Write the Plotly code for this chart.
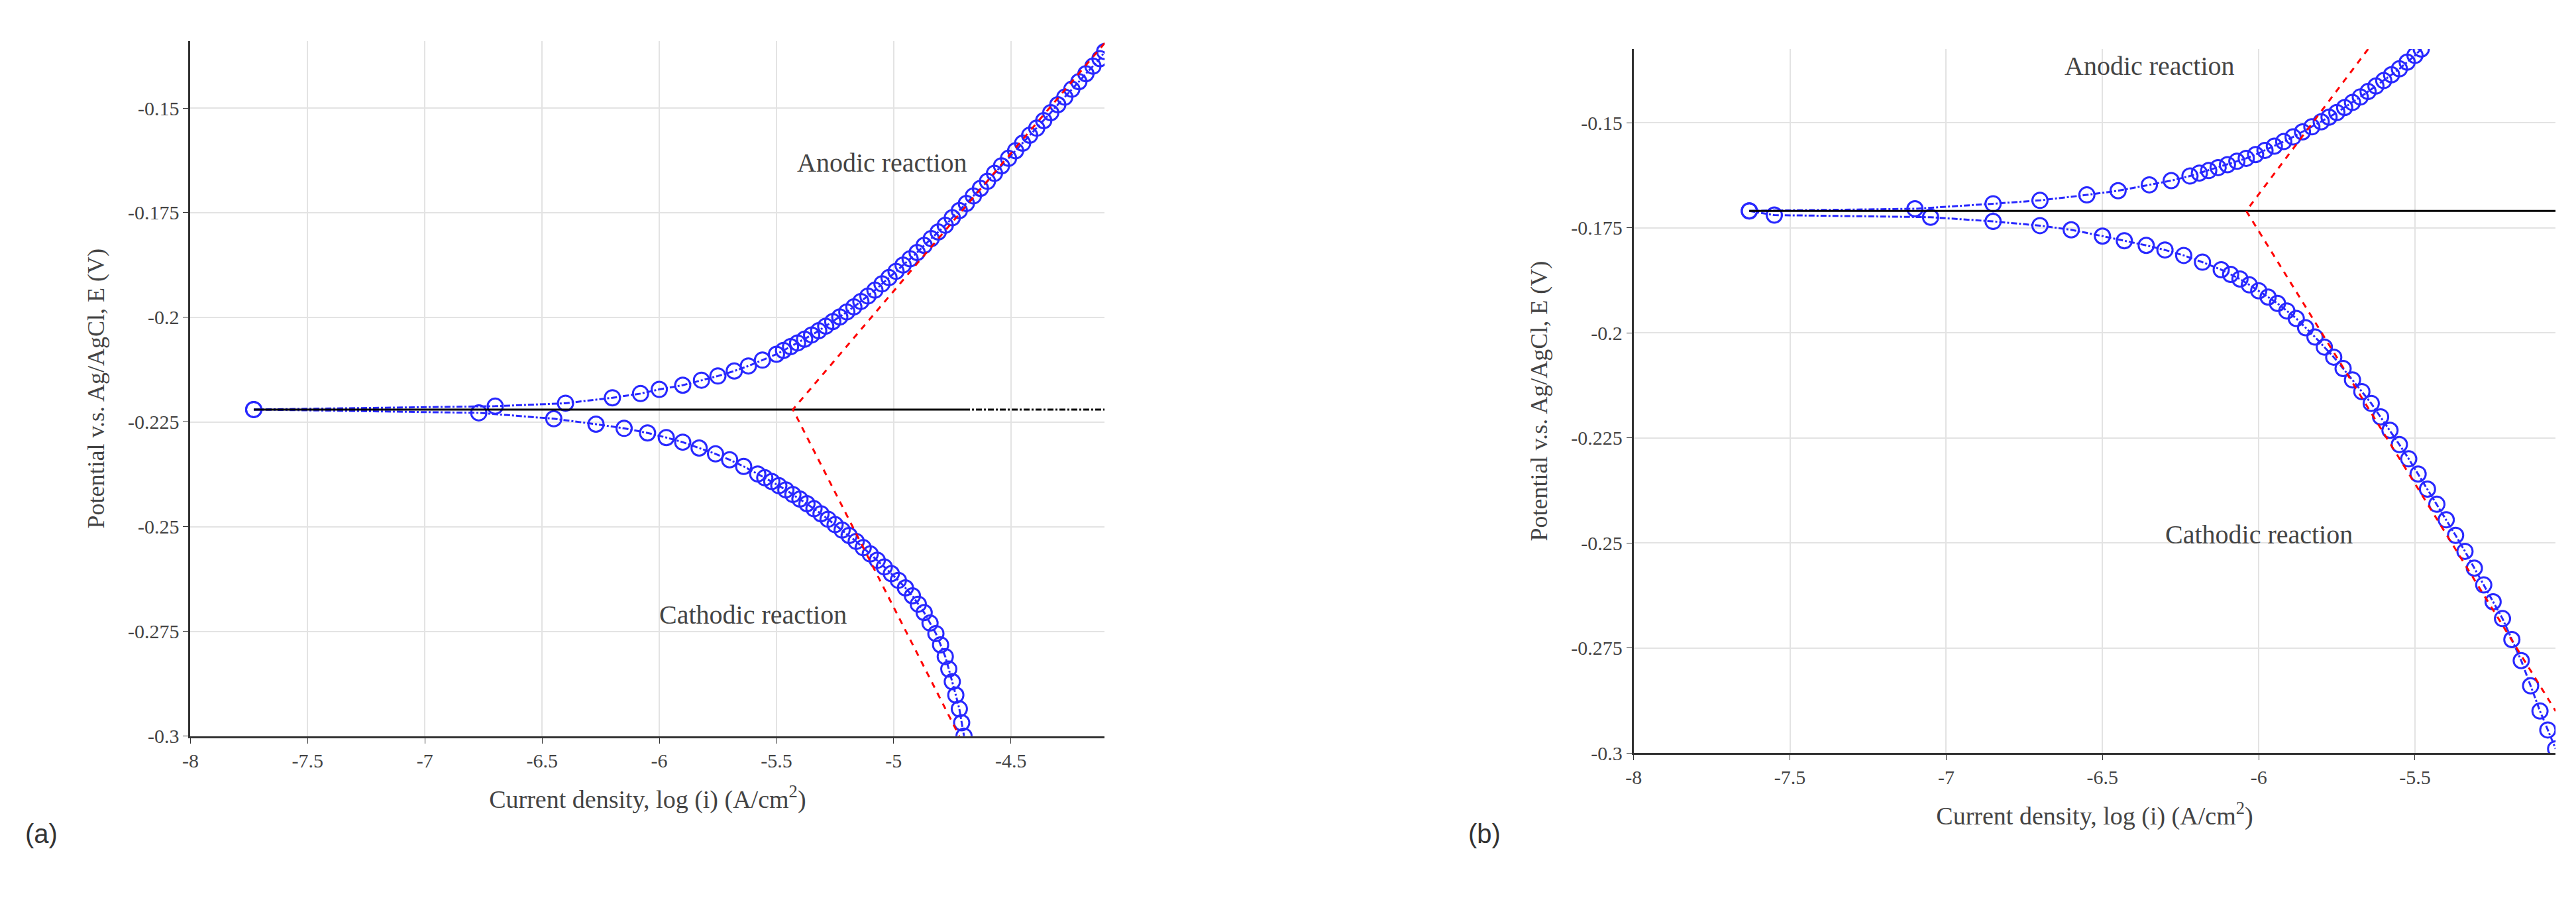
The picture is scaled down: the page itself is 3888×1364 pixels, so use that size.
import plotly.graph_objects as go

# (a)
a_an_x = [-7.73,-6.7,-6.4,-6.2,-6.08,-6.0,-5.9,-5.82,-5.75,-5.68,-5.62,-5.56,-5.5,-5.44,-5.38,-5.32,-5.26,-5.2,-5.14,-5.08,-5.02,-4.96,-4.9,-4.84,-4.78,-4.72,-4.66,-4.6,-4.54,-4.48,-4.42,-4.36,-4.3,-4.24,-4.18,-4.12,-4.1]
a_an_y = [-0.222,-0.2212,-0.2205,-0.2192,-0.2182,-0.2172,-0.2162,-0.2150,-0.2140,-0.2128,-0.2116,-0.2102,-0.2088,-0.2070,-0.2052,-0.2032,-0.2010,-0.1987,-0.1962,-0.1935,-0.1905,-0.1875,-0.1845,-0.1812,-0.1780,-0.1745,-0.1710,-0.1675,-0.1638,-0.1602,-0.1565,-0.1530,-0.1492,-0.1455,-0.1418,-0.1382,-0.1365]
a_an_x2 = [-5.47,-5.41,-5.35,-5.29,-5.23,-5.17,-5.11,-5.05,-4.99,-4.93,-4.87,-4.81,-4.75,-4.69,-4.63,-4.57,-4.51,-4.45,-4.39,-4.33,-4.27,-4.21,-4.15]
a_an_y2 = [-0.2079,-0.2061,-0.2042,-0.2021,-0.1999,-0.1975,-0.1949,-0.1920,-0.1890,-0.1860,-0.1828,-0.1796,-0.1762,-0.1728,-0.1692,-0.1656,-0.1620,-0.1584,-0.1548,-0.1511,-0.1474,-0.1437,-0.1400]
a_ca_x = [-7.73,-6.77,-6.45,-6.27,-6.15,-6.05,-5.97,-5.9,-5.83,-5.76,-5.7,-5.64,-5.58,-5.52,-5.46,-5.4,-5.34,-5.28,-5.22,-5.16,-5.1,-5.04,-4.98,-4.92,-4.87,-4.82,-4.78,-4.75,-4.72,-4.7]
a_ca_y = [-0.222,-0.2228,-0.2242,-0.2255,-0.2265,-0.2276,-0.2287,-0.2298,-0.2312,-0.2326,-0.2340,-0.2356,-0.2374,-0.2392,-0.2412,-0.2434,-0.2457,-0.2482,-0.2508,-0.2535,-0.2565,-0.2596,-0.2628,-0.2665,-0.2705,-0.2755,-0.2810,-0.2870,-0.2935,-0.3]
a_ca_x2 = [-5.55,-5.49,-5.43,-5.37,-5.31,-5.25,-5.19,-5.13,-5.07,-5.01,-4.95,-4.895,-4.845,-4.80,-4.765,-4.735,-4.71]
a_ca_y2 = [-0.2383,-0.2402,-0.2423,-0.2445,-0.2469,-0.2495,-0.2521,-0.2550,-0.2580,-0.2612,-0.2646,-0.2685,-0.2730,-0.2782,-0.2840,-0.2902,-0.2968]
a_tafel_x = [-4.1,-5.43,-4.72]
a_tafel_y = [-0.1345,-0.222,-0.300]
a_ecorr = -0.222

# (b)
b_an_x = [-7.63,-7.1,-6.85,-6.7,-6.55,-6.45,-6.35,-6.28,-6.22,-6.16,-6.1,-6.04,-5.98,-5.92,-5.86,-5.8,-5.75,-5.7,-5.65,-5.6,-5.55,-5.5,-5.48]
b_an_y = [-0.171,-0.1705,-0.1693,-0.1685,-0.1672,-0.1662,-0.1648,-0.1638,-0.1627,-0.1614,-0.1600,-0.1585,-0.1566,-0.1545,-0.1522,-0.1498,-0.1476,-0.1452,-0.1426,-0.1400,-0.1372,-0.1340,-0.1325]
b_an_x2 = [-6.19,-6.13,-6.07,-6.01,-5.95,-5.89,-5.83,-5.775,-5.725,-5.675,-5.625,-5.575,-5.525]
b_an_y2 = [-0.1620,-0.1607,-0.1592,-0.1576,-0.1556,-0.1534,-0.1510,-0.1487,-0.1464,-0.1439,-0.1413,-0.1386,-0.1356]
b_ca_x = [-7.63,-7.55,-7.05,-6.85,-6.7,-6.6,-6.5,-6.43,-6.36,-6.3,-6.24,-6.18,-6.12,-6.06,-6.0,-5.94,-5.88,-5.82,-5.76,-5.7,-5.64,-5.58,-5.52,-5.46,-5.4,-5.34,-5.28,-5.22,-5.16,-5.1,-5.05]
b_ca_y = [-0.171,-0.172,-0.1725,-0.1735,-0.1745,-0.1755,-0.177,-0.1781,-0.1792,-0.1803,-0.1816,-0.1832,-0.1850,-0.1872,-0.1900,-0.1930,-0.1966,-0.2010,-0.2058,-0.2112,-0.2168,-0.2232,-0.2300,-0.2372,-0.2445,-0.2520,-0.2600,-0.2680,-0.2780,-0.2900,-0.2990]
b_ca_x2 = [-6.09,-6.03,-5.97,-5.91,-5.85,-5.79,-5.73,-5.67,-5.61,-5.55,-5.49,-5.43,-5.37,-5.31,-5.25,-5.19,-5.13,-5.075]
b_ca_y2 = [-0.1861,-0.1886,-0.1915,-0.1948,-0.1988,-0.2034,-0.2085,-0.2140,-0.2200,-0.2266,-0.2336,-0.2408,-0.2482,-0.2560,-0.2640,-0.2730,-0.2840,-0.2945]
b_tafel_x = [-5.65,-6.04,-5.05]
b_tafel_y = [-0.1325,-0.171,-0.290]
b_ecorr = -0.171

BLUE = "rgb(40,40,255)"
fig = go.Figure()

def merge(x1, y1, x2, y2):
    pts = sorted(zip(x1 + x2, y1 + y2))
    return [p[0] for p in pts], [p[1] for p in pts]

def add_panel(xa, ya, an, ca, tx, ty, ec, xsolid_end, xmax):
    for xs, ys in [an, ca]:
        fig.add_trace(go.Scatter(x=xs, y=ys, mode="lines+markers", xaxis=xa, yaxis=ya,
            line=dict(color=BLUE, width=3, dash="dashdot"),
            marker=dict(symbol="circle-open", size=23, color=BLUE, line=dict(width=3)),
            showlegend=False))
    fig.add_trace(go.Scatter(x=[an[0][0], xsolid_end], y=[ec, ec], mode="lines", xaxis=xa, yaxis=ya,
        line=dict(color="black", width=3), showlegend=False))
    if xsolid_end < xmax:
        fig.add_trace(go.Scatter(x=[xsolid_end, xmax], y=[ec, ec], mode="lines", xaxis=xa, yaxis=ya,
            line=dict(color="black", width=3, dash="dashdot"), showlegend=False))
    fig.add_trace(go.Scatter(x=tx, y=ty, mode="lines", xaxis=xa, yaxis=ya,
        line=dict(color="red", width=3, dash="dash"), showlegend=False))

add_panel("x", "y", merge(a_an_x, a_an_y, a_an_x2, a_an_y2), merge(a_ca_x, a_ca_y, a_ca_x2, a_ca_y2),
          a_tafel_x, a_tafel_y, a_ecorr, -4.7, -4.1)
add_panel("x2", "y2", merge(b_an_x, b_an_y, b_an_x2, b_an_y2), merge(b_ca_x, b_ca_y, b_ca_x2, b_ca_y2),
          b_tafel_x, b_tafel_y, b_ecorr, -5.05, -5.05)

serif = "Liberation Serif"
ax = dict(showgrid=True, gridcolor="#e3e3e3", gridwidth=2, zeroline=False, showline=True,
          linecolor="#333", linewidth=3, ticks="outside", ticklen=8, tickcolor="#333",
          tickfont=dict(family=serif, size=30, color="#444"))
yticks = [-0.3, -0.275, -0.25, -0.225, -0.2, -0.175, -0.15]
ytext = ["-0.3", "-0.275", "-0.25", "-0.225", "-0.2", "-0.175", "-0.15"]
fig.update_layout(
    width=3888, height=1364, paper_bgcolor="white", plot_bgcolor="white",
    margin=dict(l=0, r=0, t=0, b=0),
    xaxis=dict(ax, domain=[0.069, 0.425], range=[-8, -4.1], tickvals=[-8,-7.5,-7,-6.5,-6,-5.5,-5,-4.5], ticktext=["-8","-7.5","-7","-6.5","-6","-5.5","-5","-4.5"],
               title=dict(text="Current density, log (i) (A/cm<sup>2</sup>)", font=dict(family=serif, size=38, color="#444"), standoff=30)),
    yaxis=dict(ax, domain=[0.182, 0.96], range=[-0.3, -0.134], tickvals=yticks, ticktext=ytext,
               title=dict(text="Potential v.s. Ag/AgCl, E (V)", font=dict(family=serif, size=36, color="#444"), standoff=25)),
    xaxis2=dict(ax, domain=[0.631, 0.99], range=[-8, -5.05], anchor="y2", tickvals=[-8,-7.5,-7,-6.5,-6,-5.5], ticktext=["-8","-7.5","-7","-6.5","-6","-5.5"],
               title=dict(text="Current density, log (i) (A/cm<sup>2</sup>)", font=dict(family=serif, size=38, color="#444"), standoff=30)),
    yaxis2=dict(ax, domain=[0.163, 0.951], range=[-0.3, -0.1325], anchor="x2", tickvals=yticks, ticktext=ytext,
               title=dict(text="Potential v.s. Ag/AgCl, E (V)", font=dict(family=serif, size=36, color="#444"), standoff=25)),
)
ann_font = dict(family=serif, size=40, color="#444")
fig.add_annotation(x=-5.05, y=-0.163, xref="x", yref="y", text="Anodic reaction", showarrow=False, font=ann_font)
fig.add_annotation(x=-5.6, y=-0.271, xref="x", yref="y", text="Cathodic reaction", showarrow=False, font=ann_font)
fig.add_annotation(x=-6.35, y=-0.1365, xref="x2", yref="y2", text="Anodic reaction", showarrow=False, font=ann_font)
fig.add_annotation(x=-6.0, y=-0.248, xref="x2", yref="y2", text="Cathodic reaction", showarrow=False, font=ann_font)
fig.add_annotation(x=0.004, y=0.055, xref="paper", yref="paper", text="(a)", showarrow=False, xanchor="left",
                   font=dict(family="Liberation Sans", size=40, color="#333"))
fig.add_annotation(x=0.566, y=0.055, xref="paper", yref="paper", text="(b)", showarrow=False, xanchor="left",
                   font=dict(family="Liberation Sans", size=40, color="#333"))
fig.write_html("out.html")
